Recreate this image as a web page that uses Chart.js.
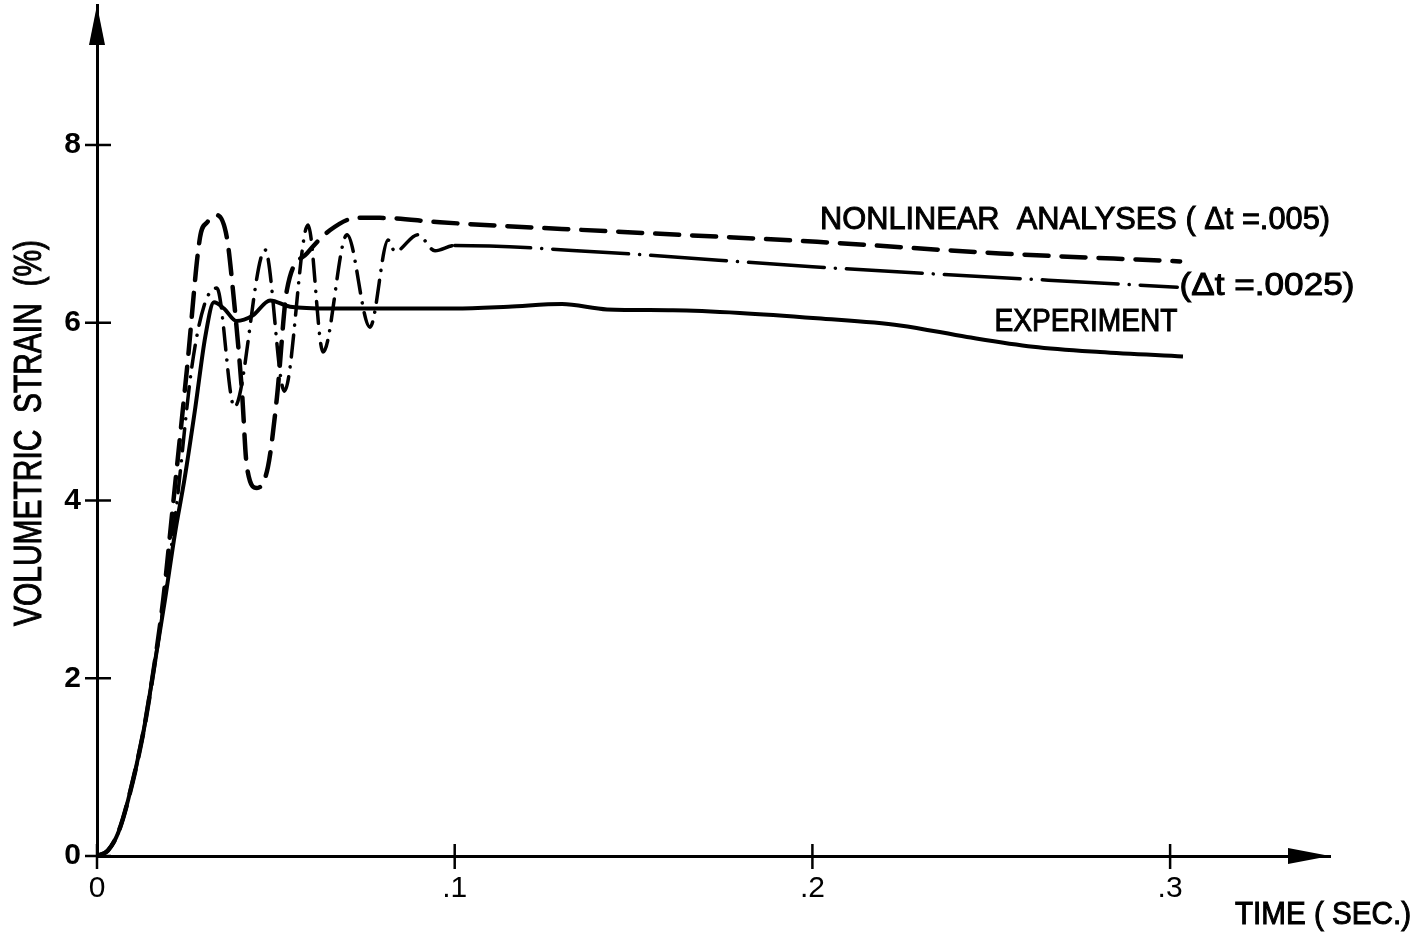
<!DOCTYPE html>
<html lang="en">
<head>
    <meta charset="UTF-8">
    <title>Volumetric Strain vs Time</title>
    <script src="https://cdn.jsdelivr.net/npm/chart.js"></script>
    <style>
        body {
            margin: 0;
            background-color: white;
        }
        canvas {
            display: block;
        }
    </style>
</head>
<body>
    <canvas id="strainChart" width="1424" height="936"></canvas>

    <script>
        // Experiment (solid)
        const expTime = [0, 0.003, 0.0059, 0.0087, 0.0129, 0.0154, 0.019, 0.0218, 0.0245, 0.0275, 0.0303,
            0.0327, 0.0355, 0.039, 0.0435, 0.0484, 0.054, 0.065, 0.08, 0.1, 0.115, 0.13, 0.1426, 0.161,
            0.1797, 0.2013, 0.2245, 0.2432, 0.2617, 0.2804, 0.3036];
        const expStrain = [0, 0.06, 0.26, 0.63, 1.38, 1.98, 2.88, 3.63, 4.25, 5.05, 5.85,
            6.23, 6.16, 6.02, 6.08, 6.25, 6.18, 6.16, 6.16, 6.16, 6.18, 6.21, 6.15, 6.14,
            6.11, 6.05, 5.97, 5.84, 5.73, 5.67, 5.62];

        // Nonlinear analysis, dt = .005 (dashed)
        const dt005Time = [0, 0.003, 0.0059, 0.0087, 0.0129, 0.0154, 0.0185, 0.0212, 0.0252, 0.0288, 0.0308,
            0.0335, 0.0363, 0.038, 0.0405, 0.0419, 0.0447, 0.0478, 0.0503, 0.0531, 0.0587, 0.0651,
            0.0727, 0.0791, 0.0959, 0.1426, 0.2013, 0.2525, 0.3028];
        const dt005Strain = [0, 0.06, 0.26, 0.63, 1.38, 1.98, 2.88, 3.93, 5.5, 6.96, 7.13,
            7.21, 6.96, 6.37, 5.24, 4.38, 4.14, 4.38, 5.16, 6.37, 6.78, 7.04,
            7.18, 7.18, 7.13, 7.03, 6.91, 6.78, 6.69];

        // Nonlinear analysis, dt = .0025 (dash-dot)
        const dt0025Time = [0, 0.003, 0.0059, 0.0087, 0.0129, 0.0154, 0.0188, 0.0222, 0.0265, 0.03,
            0.0335, 0.0384, 0.047, 0.0524, 0.059, 0.0632, 0.0699, 0.0763, 0.0814, 0.0833, 0.0897,
            0.0945, 0.1, 0.1426, 0.2, 0.302];
        const dt0025Strain = [0, 0.06, 0.26, 0.63, 1.38, 1.98, 2.88, 3.93, 5.5, 6.2,
            6.39, 5.05, 6.82, 5.23, 7.1, 5.67, 6.99, 5.95, 6.93, 6.8, 6.99,
            6.81, 6.87, 6.79, 6.63, 6.40];

        const xTicks = [0, 0.1, 0.2, 0.3];
        const xTickLabels = ['0', '.1', '.2', '.3'];
        const yTicks = [0, 2, 4, 6, 8];

        const FONT = '"Liberation Sans", Arial, sans-serif';

        function toPoints(xs, ys) {
            return xs.map((x, i) => ({ x: x, y: ys[i] }));
        }

        // text squeezed/stretched to a given width, like the lettering on the plot
        function fitText(ctx, text, cx, cy, width, size, angle) {
            ctx.save();
            ctx.font = size + 'px ' + FONT;
            const w = ctx.measureText(text).width;
            ctx.translate(cx, cy);
            if (angle) ctx.rotate(angle);
            ctx.scale(width / w, 1);
            ctx.textAlign = 'center';
            ctx.textBaseline = 'middle';
            ctx.fillStyle = '#000';
            ctx.strokeStyle = '#000';
            ctx.lineWidth = 1;
            ctx.fillText(text, 0, 0);
            ctx.strokeText(text, 0, 0);
            ctx.restore();
        }

        const decorations = {
            id: 'decorations',
            afterDraw(chart) {
                const ctx = chart.ctx;
                const area = chart.chartArea;
                const xs = chart.scales.x;
                const ys = chart.scales.y;
                ctx.save();
                ctx.strokeStyle = '#000';
                ctx.fillStyle = '#000';
                ctx.lineWidth = 2.5;

                // tick marks crossing the axes
                yTicks.forEach(v => {
                    const y = ys.getPixelForValue(v);
                    ctx.beginPath();
                    ctx.moveTo(area.left - 12, y);
                    ctx.lineTo(area.left + 14, y);
                    ctx.stroke();
                });
                xTicks.forEach(v => {
                    const x = xs.getPixelForValue(v);
                    ctx.beginPath();
                    ctx.moveTo(x, area.bottom - 12);
                    ctx.lineTo(x, area.bottom + 13);
                    ctx.stroke();
                });

                // arrow heads
                ctx.beginPath();
                ctx.moveTo(area.left, area.top);
                ctx.lineTo(area.left - 8, area.top + 40);
                ctx.lineTo(area.left + 8, area.top + 40);
                ctx.closePath();
                ctx.fill();
                ctx.beginPath();
                ctx.moveTo(area.right, area.bottom);
                ctx.lineTo(area.right - 42, area.bottom - 8);
                ctx.lineTo(area.right - 42, area.bottom + 8);
                ctx.closePath();
                ctx.fill();
                ctx.restore();

                // labels
                fitText(ctx, 'VOLUMETRIC  STRAIN  (%)', 31, 433, 386, 38, -Math.PI / 2);
                fitText(ctx, 'TIME ( SEC.)', 1323, 915, 176, 31);
                fitText(ctx, 'NONLINEAR  ANALYSES ( \u0394t =.005)', 1075, 220, 510, 32);
                fitText(ctx, '(\u0394t =.0025)', 1267, 286, 175, 32);
                fitText(ctx, 'EXPERIMENT', 1086, 322, 183, 32);
            }
        };

        const ctx = document.getElementById('strainChart').getContext('2d');
        const chart = new Chart(ctx, {
            type: 'line',
            data: {
                datasets: [
                    {
                        label: 'Experiment',
                        data: toPoints(expTime, expStrain),
                        borderColor: '#000',
                        borderWidth: 4,
                        cubicInterpolationMode: 'monotone',
                        pointRadius: 0
                    },
                    {
                        label: 'Nonlinear analysis (dt = .005)',
                        data: toPoints(dt005Time, dt005Strain),
                        borderColor: '#000',
                        borderWidth: 4.5,
                        borderDash: [24, 13],
                        borderCapStyle: 'round',
                        cubicInterpolationMode: 'monotone',
                        pointRadius: 0
                    },
                    {
                        label: 'Nonlinear analysis (dt = .0025)',
                        data: toPoints(dt0025Time, dt0025Strain),
                        borderColor: '#000',
                        borderWidth: 3.5,
                        borderCapStyle: 'round',
                        cubicInterpolationMode: 'monotone',
                        pointRadius: 0,
                        segment: {
                            // shorter dashes in the oscillating part
                            borderDash: c => c.p0.parsed.x < 0.099 ? [22, 10, 0.1, 10] : [76, 11, 0.1, 11]
                        }
                    }
                ]
            },
            options: {
                responsive: false,
                animation: false,
                devicePixelRatio: 1,
                layout: {
                    padding: { top: 5, right: 94, left: 0, bottom: 0 }
                },
                plugins: {
                    legend: { display: false },
                    tooltip: { enabled: false }
                },
                scales: {
                    x: {
                        type: 'linear',
                        min: 0,
                        max: 0.3447,
                        afterFit: s => {
                            s.height = 80;
                            s.paddingLeft = 0;
                            s.paddingRight = 0;
                        },
                        afterBuildTicks: s => { s.ticks = xTicks.map(v => ({ value: v })); },
                        grid: { display: false, drawTicks: false },
                        border: { display: true, color: '#000', width: 3 },
                        ticks: {
                            autoSkip: false,
                            maxRotation: 0,
                            padding: 15,
                            color: '#000',
                            font: { family: FONT, size: 30 },
                            callback: (v) => {
                                const i = xTicks.indexOf(v);
                                return i >= 0 ? xTickLabels[i] : '';
                            }
                        }
                    },
                    y: {
                        min: 0,
                        max: 9.575,
                        afterFit: s => {
                            s.width = 97;
                            s.paddingTop = 0;
                            s.paddingBottom = 0;
                        },
                        afterBuildTicks: s => { s.ticks = yTicks.map(v => ({ value: v })); },
                        grid: { display: false, drawTicks: false },
                        border: { display: true, color: '#000', width: 3 },
                        ticks: {
                            autoSkip: false,
                            padding: 16,
                            color: '#000',
                            font: { family: FONT, size: 30, weight: 'bold' }
                        }
                    }
                }
            },
            plugins: [decorations]
        });
    </script>
</body>
</html>
